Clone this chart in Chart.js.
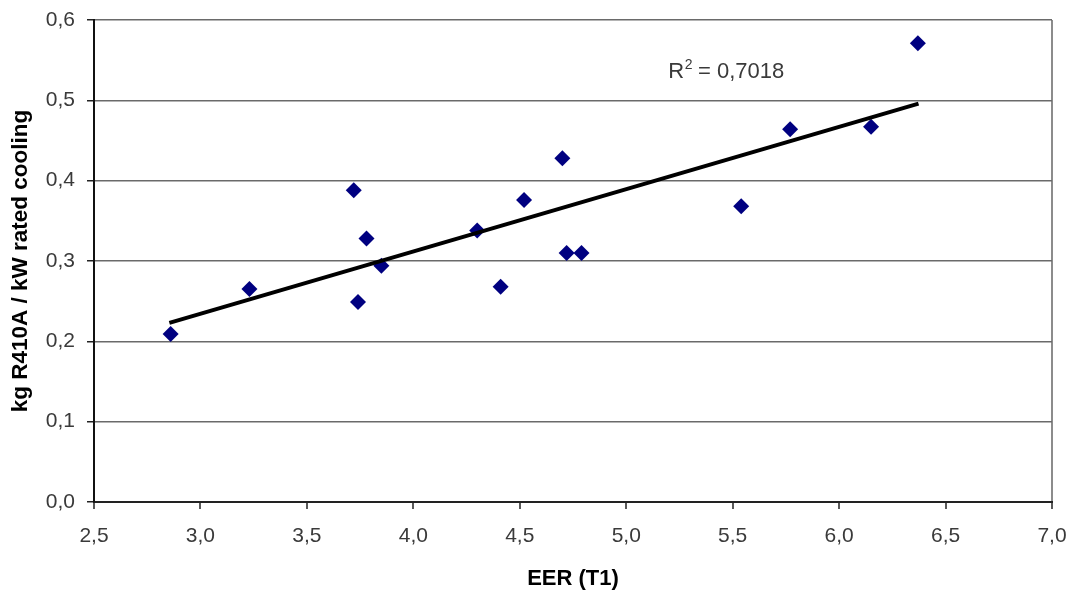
<!DOCTYPE html>
<html>
<head>
<meta charset="utf-8">
<script src="https://cdn.jsdelivr.net/npm/chart.js@4.4.1/dist/chart.umd.min.js"></script>
<style>
  html, body { margin: 0; padding: 0; background: #fff; }
  #wrap { width: 1071px; height: 592px; }
</style>
</head>
<body>
<div id="wrap"><canvas id="c" width="1071" height="592"></canvas></div>
<script>
// ---- data ----
const eer = [2.86, 3.23, 3.72, 3.74, 3.78, 3.85, 4.30, 4.41, 4.52, 4.70, 4.72, 4.79, 5.54, 5.77, 6.15, 6.37];
const charge = [0.209, 0.265, 0.388, 0.249, 0.328, 0.294, 0.338, 0.268, 0.376, 0.428, 0.310, 0.310, 0.368, 0.464, 0.467, 0.571];
const trendX = [2.854, 6.373];
const trendY = [0.223, 0.496];
const xTickLabels = ['2,5', '3,0', '3,5', '4,0', '4,5', '5,0', '5,5', '6,0', '6,5', '7,0'];
const yTickLabels = ['0,0', '0,1', '0,2', '0,3', '0,4', '0,5', '0,6'];
const r2Label = { prefix: 'R', sup: '2', rest: ' = 0,7018', x: 5.47, y: 0.535 };
const xTitle = 'EER (T1)';
const yTitle = 'kg R410A / kW rated cooling';

const scatterPts = eer.map((v, i) => ({ x: v, y: charge[i] }));
const trendPts = trendX.map((v, i) => ({ x: v, y: trendY[i] }));

const FAMILY = '"Liberation Sans", Arial, sans-serif';

const r2Plugin = {
  id: 'r2',
  afterDatasetsDraw(chart) {
    const { ctx, scales } = chart;
    const px = scales.x.getPixelForValue(r2Label.x);
    const py = scales.y.getPixelForValue(r2Label.y);
    ctx.save();
    ctx.fillStyle = '#3a3a3a';
    ctx.textBaseline = 'middle';
    ctx.textAlign = 'left';
    const big = '22px ' + FAMILY;
    const small = '14px ' + FAMILY;
    ctx.font = big;
    const wR = ctx.measureText(r2Label.prefix).width;
    const wRest = ctx.measureText(r2Label.rest).width;
    ctx.font = small;
    const wS = ctx.measureText(r2Label.sup).width;
    const total = wR + wS + wRest;
    const x0 = px - total / 2;
    ctx.font = big;
    ctx.fillText(r2Label.prefix, x0, py);
    ctx.font = small;
    ctx.fillText(r2Label.sup, x0 + wR + 0.5, py - 7);
    ctx.font = big;
    ctx.fillText(r2Label.rest, x0 + wR + wS, py);
    ctx.restore();
  }
};

new Chart(document.getElementById('c'), {
  type: 'scatter',
  data: {
    datasets: [
      {
        type: 'line',
        data: trendPts,
        borderColor: '#000',
        borderWidth: 4,
        pointRadius: 0,
        fill: false,
        order: 0
      },
      {
        data: scatterPts,
        pointStyle: 'rectRot',
        pointRadius: 8,
        pointHoverRadius: 8,
        backgroundColor: '#000080',
        borderColor: '#000080',
        borderWidth: 0,
        order: 1
      }
    ]
  },
  options: {
    responsive: false,
    animation: false,
    events: [],
    layout: { padding: { top: 20, right: 19, left: 0, bottom: 0 } },
    plugins: { legend: { display: false }, tooltip: { enabled: false } },
    scales: {
      x: {
        type: 'linear',
        min: 2.5,
        max: 7.0,
        afterFit(s) { s.height = 90; s.paddingLeft = 0; s.paddingRight = 0; },
        ticks: {
          stepSize: 0.5,
          padding: 15,
          color: '#3a3a3a',
          font: { family: FAMILY, size: 21 },
          callback: (v, i) => xTickLabels[i]
        },
        grid: {
          drawOnChartArea: true,
          color: (c) => (c.index === xTickLabels.length - 1 ? '#8c8c8c' : 'rgba(0,0,0,0)'),
          lineWidth: 2,
          tickColor: '#222',
          tickLength: 7,
          tickWidth: 1.5
        },
        border: { display: true, color: '#222', width: 2 },
        title: {
          display: true,
          text: xTitle,
          color: '#000',
          font: { family: FAMILY, size: 22, weight: 'bold' },
          padding: { top: 2, bottom: 0 }
        }
      },
      y: {
        type: 'linear',
        min: 0,
        max: 0.6,
        afterFit(s) { s.width = 94; s.paddingTop = 0; s.paddingBottom = 0; },
        ticks: {
          stepSize: 0.1,
          padding: 12,
          color: '#3a3a3a',
          font: { family: FAMILY, size: 21 },
          callback: (v, i) => yTickLabels[i]
        },
        grid: {
          color: '#6a6a6a',
          lineWidth: 1.5,
          tickColor: '#222',
          tickLength: 7,
          tickWidth: 1.5
        },
        border: { display: true, color: '#111', width: 2 },
        title: {
          display: true,
          text: yTitle,
          color: '#000',
          font: { family: FAMILY, size: 22.5, weight: 'bold' },
          padding: { top: 7, bottom: 0 }
        }
      }
    }
  },
  plugins: [r2Plugin]
});
</script>
</body>
</html>
